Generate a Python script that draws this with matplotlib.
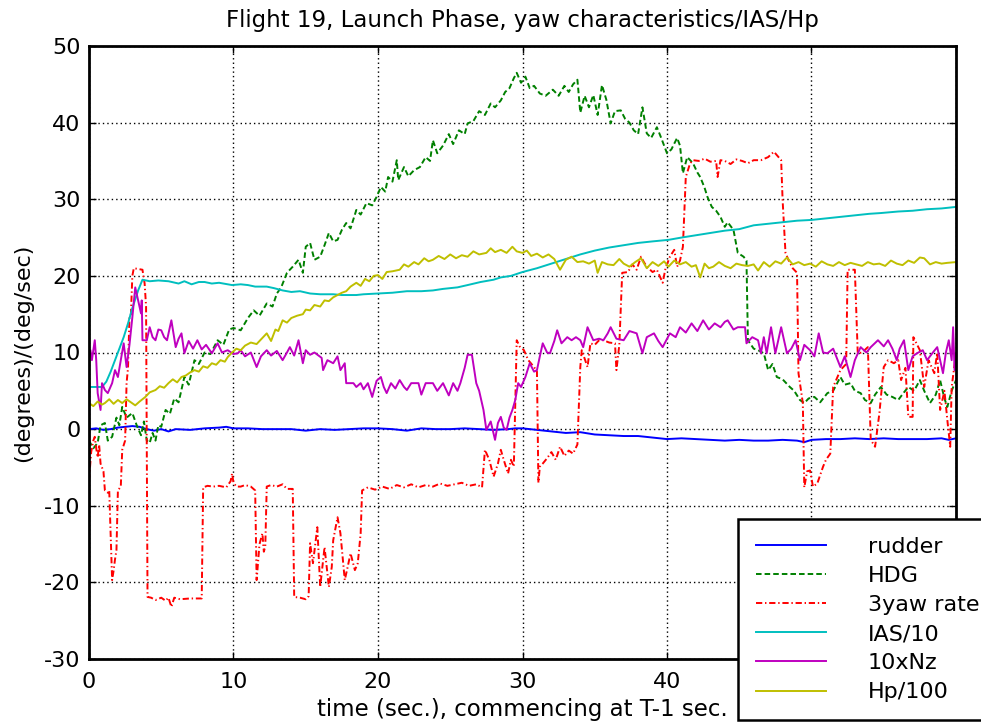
import matplotlib
matplotlib.use("Agg")
import matplotlib.pyplot as plt
from matplotlib.lines import Line2D

plt.rcParams['font.family'] = ['DejaVu Sans']
plt.rcParams['lines.scale_dashes'] = False

# ---------------- data ----------------
title = "Flight 19, Launch Phase, yaw characteristics/IAS/Hp"
xlabel = "time (sec.), commencing at T-1 sec."
ylabel = "(degrees)/(deg/sec)"
labels = ["rudder", "HDG", "3yaw rate", "IAS/10", "10xNz", "Hp/100"]
xticks = [0, 10, 20, 30, 40, 50, 60]
xticklabels = ["0", "10", "20", "30", "40", "", ""]  # 50 and 60 lie under the legend
yticks = [-30, -20, -10, 0, 10, 20, 30, 40, 50]

rudder_t = [0, 0.5, 1.0, 1.5, 2.0, 2.5, 3.0, 3.5, 4.0, 4.5,
            5.0, 5.5, 6.0, 7.0, 8.0, 9.0, 9.5, 10.0, 11.0, 12.0,
            13.0, 14.0, 15.0, 16.0, 17.0, 18.0, 19.0, 20.0, 21.0, 22.0,
            23.0, 24.0, 25.0, 26.0, 27.0, 28.0, 29.0, 29.5, 30.0, 31.0,
            32.0, 33.0, 34.0, 35.0, 36.0, 37.0, 38.0, 39.0, 40.0, 41.0,
            42.0, 43.0, 44.0, 45.0, 46.0, 47.0, 48.0, 49.0, 49.5, 50.0,
            51.0, 52.0, 53.0, 54.0, 55.0, 56.0, 57.0, 58.0, 59.0, 59.5,
            60.0]
rudder_v = [0.0, 0.1, -0.1, 0.0, 0.2, 0.3, 0.4, 0.3, 0.0, -0.2,
            0.0, -0.3, 0.0, -0.1, 0.1, 0.2, 0.3, 0.1, 0.1, 0.0,
            0.0, 0.0, -0.2, 0.0, -0.1, 0.0, 0.1, 0.1, 0.0, -0.2,
            0.1, 0.0, 0.0, 0.1, 0.0, -0.1, 0.0, 0.1, 0.1, -0.1,
            -0.3, -0.5, -0.4, -0.7, -0.8, -0.9, -0.9, -1.1, -1.3, -1.2,
            -1.3, -1.4, -1.5, -1.4, -1.5, -1.5, -1.4, -1.5, -1.7, -1.4,
            -1.3, -1.3, -1.2, -1.3, -1.2, -1.3, -1.3, -1.3, -1.2, -1.4,
            -1.2]

hdg_t = [0.0, 0.3, 0.6, 0.8, 1.1, 1.3, 1.6, 1.9, 2.1, 2.3,
         2.6, 3.0, 3.3, 3.6, 3.8, 4.0, 4.2, 4.4, 4.6, 4.8,
         5.0, 5.3, 5.6, 5.9, 6.2, 6.6, 6.9, 7.3, 7.6, 8.0,
         8.4, 8.9, 9.3, 9.7, 10.0, 10.5, 11.0, 11.4, 11.8, 12.3,
         12.7, 13.0, 13.3, 13.7, 14.1, 14.5, 14.8, 15.0, 15.3, 15.6,
         16.0, 16.3, 16.6, 16.9, 17.2, 17.5, 17.8, 18.1, 18.5, 18.8,
         19.2, 19.6, 19.9, 20.2, 20.5, 20.7, 21.0, 21.3, 21.4, 21.8,
         22.1, 22.5, 22.9, 23.3, 23.6, 23.8, 24.1, 24.5, 24.9, 25.2,
         25.6, 26.0, 26.2, 26.6, 27.0, 27.4, 27.8, 28.1, 28.5, 28.8,
         29.1, 29.4, 29.6, 29.9, 30.2, 30.5, 30.8, 31.2, 31.6, 32.1,
         32.5, 32.9, 33.2, 33.5, 33.8, 34.0, 34.3, 34.6, 34.9, 35.2,
         35.5, 35.8, 36.1, 36.4, 36.8, 37.1, 37.4, 37.7, 38.0, 38.3,
         38.6, 38.9, 39.3, 39.6, 40.0, 40.3, 40.7, 40.9, 41.1, 41.4,
         41.8, 42.1, 42.3, 42.6, 42.8, 43.1, 43.4, 43.7, 44.0, 44.2,
         44.6, 44.9, 45.3, 45.5, 45.6, 46.0, 46.3, 46.7, 47.0, 47.3,
         47.6, 48.0, 48.5, 48.8, 49.2, 49.5, 49.8, 50.2, 50.6, 51.1,
         51.5, 52.0, 52.3, 52.7, 53.0, 53.4, 53.7, 54.1, 54.4, 54.8,
         55.2, 55.6, 56.0, 56.4, 56.7, 57.1, 57.5, 57.8, 58.2, 58.6,
         58.9, 59.2, 59.4, 59.7, 60.0]
hdg_v = [-1.5, -2.5, -1.8, 0.5, 0.8, -1.5, -1.0, 1.5, 0.5, 2.9,
         1.5, 2.1, 0.5, -0.8, 1.0, -1.5, -1.8, -0.5, -1.5, 0.5,
         0.3, 2.5, 2.0, 4.0, 3.5, 6.8, 5.8, 9.0, 8.5, 10.0,
         9.8, 11.6, 11.0, 13.0, 13.2, 12.9, 14.5, 15.5, 14.8, 16.4,
         16.0, 17.7, 18.5, 20.4, 21.2, 22.1, 20.4, 23.8, 24.3, 22.1,
         22.5, 24.0, 25.6, 24.5, 24.7, 26.0, 26.9, 26.2, 28.6, 28.0,
         29.5, 29.2, 30.3, 31.6, 31.0, 32.9, 32.3, 35.1, 32.5, 34.2,
         33.0, 33.8, 34.2, 35.5, 35.0, 37.7, 36.0, 37.0, 38.5, 37.2,
         39.0, 38.5, 39.9, 40.2, 41.5, 41.0, 42.5, 42.0, 42.9, 44.0,
         44.5, 45.8, 46.5, 45.2, 46.0, 44.5, 44.8, 43.8, 43.5, 44.3,
         43.5, 44.8, 44.0, 45.0, 45.6, 41.3, 43.5, 42.0, 43.6, 41.0,
         44.9, 43.0, 39.9, 41.5, 41.6, 40.5, 40.0, 39.0, 38.5, 42.0,
         38.6, 38.0, 39.4, 38.0, 36.0, 36.5, 38.0, 37.0, 33.4, 35.5,
         34.7, 33.5, 32.9, 31.5, 30.3, 29.0, 28.5, 27.7, 26.4, 27.0,
         26.0, 23.0, 22.5, 22.0, 11.6, 10.5, 10.3, 9.9, 7.7, 8.5,
         6.8, 6.5, 5.5, 5.0, 3.8, 3.4, 4.0, 4.2, 3.5, 4.7,
         5.0, 6.8, 5.8, 6.0, 5.0, 4.7, 3.8, 3.4, 4.5, 5.5,
         4.5, 4.2, 3.8, 4.8, 5.5, 5.0, 6.4, 5.0, 3.4, 4.5,
         6.4, 4.0, 2.9, 5.0, 6.4]

yaw_t = [0.0, 0.15, 0.3, 0.4, 0.5, 0.6, 0.7, 0.8, 1.0, 1.1,
         1.3, 1.4, 1.5, 1.6, 1.7, 1.8, 1.9, 2.0, 2.2, 2.3,
         2.5, 2.6, 2.7, 2.8, 2.9, 3.0, 3.1, 3.7, 3.85, 3.95,
         4.05, 4.3, 4.6, 5.0, 5.3, 5.5, 5.7, 5.9, 6.3, 7.0,
         7.8, 7.9, 8.2, 8.6, 9.0, 9.5, 9.8, 9.9, 10.0, 10.2,
         10.5, 10.8, 11.2, 11.5, 11.6, 11.8, 12.0, 12.1, 12.2, 12.3,
         12.6, 13.0, 13.4, 13.7, 14.1, 14.2, 14.6, 15.0, 15.2, 15.3,
         15.5, 15.8, 16.0, 16.3, 16.6, 16.8, 16.9, 17.2, 17.4, 17.7,
         17.9, 18.1, 18.4, 18.6, 18.8, 18.9, 19.3, 19.8, 20.3, 20.8,
         21.3, 21.8, 22.3, 22.8, 23.3, 23.8, 24.3, 24.8, 25.3, 25.8,
         26.3, 26.8, 27.2, 27.4, 27.7, 28.0, 28.3, 28.5, 28.7, 29.0,
         29.2, 29.4, 29.6, 29.8, 30.1, 30.4, 30.8, 31.0, 31.1, 31.2,
         31.4, 31.7, 32.0, 32.3, 32.6, 32.9, 33.2, 33.5, 33.8, 34.0,
         34.1, 34.5, 34.7, 35.0, 35.3, 35.6, 36.0, 36.4, 36.5, 36.7,
         36.9, 37.3, 37.6, 37.9, 38.2, 38.4, 38.6, 39.0, 39.3, 39.7,
         39.9, 40.2, 40.5, 40.7, 40.9, 41.1, 41.3, 41.6, 41.8, 42.2,
         42.6, 43.0, 43.4, 43.5, 43.7, 44.0, 44.4, 44.8, 45.2, 45.6,
         46.0, 46.5, 47.0, 47.4, 47.9, 48.0, 48.2, 48.4, 48.7, 49.0,
         49.1, 49.4, 49.5, 49.7, 49.9, 50.1, 50.4, 50.6, 50.8, 51.0,
         51.3, 51.5, 52.0, 52.4, 52.5, 53.0, 53.2, 53.5, 53.9, 54.1,
         54.4, 54.7, 55.0, 55.3, 55.7, 56.0, 56.2, 56.5, 56.7, 57.0,
         57.05, 57.5, 57.8, 58.1, 58.5, 58.7, 58.9, 59.2, 59.4, 59.6,
         59.7, 60.0]
yaw_v = [-6.7, -3.0, -1.5, -1.0, -2.5, -3.7, -2.0, -4.5, -5.5, -8.0,
         -8.3, -8.0, -14.0, -19.7, -18.5, -17.0, -15.8, -8.0, -7.5, -2.7,
         -1.5, 6.0, 8.0, 14.6, 15.0, 20.0, 21.0, 20.8, 19.0, 16.0,
         -21.9, -22.0, -22.3, -22.0, -22.4, -22.0, -23.2, -22.0, -22.2, -22.1,
         -22.1, -7.6, -7.4, -7.5, -7.4, -7.6, -6.8, -5.8, -7.0, -7.5,
         -7.5, -7.3, -7.5, -8.0, -19.7, -15.0, -13.6, -16.0, -15.3, -7.5,
         -7.3, -7.5, -7.2, -7.8, -7.8, -21.9, -22.0, -22.2, -21.8, -14.9,
         -17.5, -12.8, -20.6, -15.4, -20.6, -18.0, -14.5, -11.5, -13.6, -19.7,
         -18.0, -16.2, -18.4, -17.5, -13.6, -8.0, -7.6, -7.9, -7.5, -7.8,
         -7.3, -7.6, -7.2, -7.6, -7.3, -7.5, -7.1, -7.4, -7.2, -7.0,
         -7.4, -7.2, -7.6, -2.7, -4.0, -6.2, -4.5, -2.7, -4.0, -5.8,
         -4.0, -4.9, 11.6, 10.8, 10.3, 9.0, 8.1, 7.5, -7.0, -4.9,
         -4.5, -3.8, -3.0, -4.0, -2.3, -3.5, -2.8, -3.2, -2.0, 8.1,
         10.3, 8.1, 11.2, 11.0, 11.6, 11.6, 11.3, 11.2, 7.7, 11.0,
         20.4, 20.5, 21.5, 20.8, 22.5, 21.8, 21.2, 20.5, 20.8, 19.1,
         21.0, 22.5, 23.4, 21.2, 22.0, 23.8, 32.9, 34.7, 35.1, 35.0,
         35.3, 34.9, 35.0, 32.9, 35.1, 35.0, 34.6, 35.2, 35.0, 34.7,
         35.1, 35.1, 35.5, 36.2, 35.1, 29.9, 23.0, 22.1, 21.0, 20.4,
         7.3, 3.4, -7.6, -5.5, -5.4, -7.5, -7.1, -6.0, -4.9, -4.0,
         -3.2, 5.5, 7.7, 8.5, 20.8, 20.8, 9.9, 10.0, 10.7, -1.4,
         -2.3, 2.1, 8.1, 9.0, 8.6, 9.0, 6.4, 8.0, 1.6, 1.6,
         12.0, 10.3, 5.5, 9.0, 7.3, 10.0, 2.5, 5.0, 1.2, -2.3,
         5.5, 9.9]

ias_t = [0.0, 0.9, 1.2, 1.5, 1.8, 2.1, 2.4, 2.7, 3.0, 3.4,
         3.7, 4.2, 4.8, 5.5, 6.2, 6.6, 7.1, 7.6, 8.0, 8.5,
         9.0, 9.9, 10.5, 11.0, 11.5, 12.3, 12.8, 13.4, 14.0, 14.6,
         15.3, 16.0, 16.9, 17.5, 18.5, 19.0, 20.0, 21.0, 22.0, 23.0,
         23.8, 24.5, 25.5, 26.2, 27.1, 28.0, 28.5, 29.2, 30.0, 31.0,
         32.0, 33.0, 34.0, 35.0, 36.0, 37.0, 38.0, 39.0, 40.1, 41.0,
         42.0, 43.0, 44.0, 45.0, 45.6, 46.0, 47.0, 48.0, 49.0, 50.0,
         51.0, 52.0, 53.0, 54.0, 54.8, 56.0, 57.0, 58.0, 59.0, 60.0]
ias_v = [5.5, 5.5, 6.2, 7.5, 9.0, 10.5, 12.0, 13.8, 15.8, 18.1,
         19.5, 19.3, 19.4, 19.3, 19.0, 19.3, 18.9, 19.2, 19.2, 19.0,
         19.1, 18.8, 18.9, 18.8, 18.6, 18.6, 18.4, 18.1, 17.9, 18.0,
         17.7, 17.6, 17.6, 17.5, 17.5, 17.6, 17.7, 17.8, 18.0, 18.0,
         18.1, 18.3, 18.5, 18.8, 19.2, 19.5, 19.8, 20.0, 20.5, 21.0,
         21.6, 22.2, 22.8, 23.3, 23.7, 24.0, 24.3, 24.5, 24.7, 25.0,
         25.3, 25.6, 25.9, 26.1, 26.4, 26.6, 26.8, 27.0, 27.2, 27.3,
         27.5, 27.7, 27.9, 28.1, 28.2, 28.4, 28.5, 28.7, 28.8, 29.0]

nz_t = [0.0, 0.1, 0.2, 0.4, 0.5, 0.6, 0.8, 0.9, 1.1, 1.3,
        1.6, 1.8, 2.0, 2.2, 2.4, 2.6, 2.8, 3.0, 3.2, 3.4,
        3.6, 3.65, 3.7, 4.0, 4.2, 4.4, 4.6, 4.8, 5.0, 5.2,
        5.4, 5.7, 6.0, 6.2, 6.4, 6.6, 6.9, 7.2, 7.5, 7.8,
        8.1, 8.5, 8.9, 9.2, 9.6, 10.0, 10.3, 10.5, 10.8, 11.2,
        11.6, 11.9, 12.3, 12.6, 13.0, 13.4, 13.7, 13.9, 14.2, 14.5,
        14.8, 15.0, 15.3, 15.6, 16.1, 16.2, 16.5, 16.9, 17.2, 17.4,
        17.7, 17.8, 18.3, 18.5, 18.8, 19.0, 19.3, 19.6, 19.9, 20.2,
        20.4, 20.6, 20.9, 21.2, 21.5, 21.8, 22.0, 22.3, 22.8, 23.0,
        23.3, 23.8, 24.1, 24.5, 24.9, 25.2, 25.5, 25.7, 26.0, 26.2,
        26.5, 26.8, 27.0, 27.3, 27.5, 27.8, 28.1, 28.3, 28.5, 28.7,
        28.9, 29.1, 29.3, 29.5, 29.7, 29.9, 30.2, 30.5, 30.8, 31.0,
        31.2, 31.4, 31.7, 31.9, 32.2, 32.4, 32.7, 33.1, 33.4, 33.7,
        34.0, 34.2, 34.5, 34.9, 35.3, 35.6, 35.9, 36.1, 36.5, 37.0,
        37.4, 37.9, 38.3, 38.6, 39.1, 39.4, 39.7, 40.2, 40.6, 40.9,
        41.3, 41.7, 42.1, 42.5, 42.9, 43.3, 43.7, 44.0, 44.2, 44.6,
        44.9, 45.4, 45.5, 45.9, 46.3, 46.5, 46.7, 46.9, 47.2, 47.5,
        47.9, 48.3, 48.6, 48.9, 49.2, 49.5, 49.9, 50.2, 50.5, 50.8,
        51.1, 51.5, 52.0, 52.3, 52.7, 53.0, 53.4, 53.8, 54.1, 54.6,
        55.0, 55.3, 55.6, 55.9, 56.1, 56.4, 56.7, 57.0, 57.3, 57.7,
        58.0, 58.4, 58.7, 59.1, 59.3, 59.5, 59.7, 59.8, 59.9, 60.0]
nz_v = [10.3, 10.3, 9.0, 11.6, 9.0, 4.7, 2.5, 6.0, 5.1, 4.7,
        6.0, 7.7, 6.8, 9.0, 11.2, 8.1, 11.0, 14.6, 18.5, 16.8,
        15.1, 16.8, 11.6, 11.6, 13.3, 12.0, 11.6, 13.0, 12.9, 12.0,
        11.6, 14.2, 10.7, 11.8, 12.5, 9.9, 11.5, 10.5, 11.6, 10.4,
        11.0, 9.9, 11.2, 10.0, 10.3, 9.8, 9.9, 10.3, 9.5, 10.0,
        8.1, 9.5, 10.3, 9.6, 10.2, 9.0, 10.0, 10.7, 9.6, 11.6,
        8.6, 10.3, 9.7, 10.0, 9.3, 7.7, 9.0, 8.6, 9.5, 7.7,
        8.6, 6.0, 6.0, 5.5, 6.0, 5.2, 6.0, 4.2, 6.3, 6.8,
        5.5, 4.7, 6.0, 5.3, 6.4, 5.5, 5.1, 6.0, 6.0, 4.5,
        6.0, 6.0, 5.0, 6.0, 4.4, 6.0, 5.0, 6.0, 8.0, 9.7,
        9.7, 6.0, 5.0, 2.5, -0.1, 1.0, -1.4, 0.8, 1.6, 0.2,
        -0.1, 1.5, 2.5, 3.8, 6.0, 5.5, 6.8, 8.6, 7.5, 7.7,
        9.5, 11.2, 10.0, 9.9, 11.5, 12.9, 11.2, 12.0, 11.6, 12.0,
        11.6, 10.7, 13.3, 11.6, 11.8, 11.6, 12.5, 13.3, 11.8, 11.6,
        12.8, 12.5, 9.9, 12.0, 12.5, 11.5, 10.7, 12.5, 12.0, 13.3,
        12.6, 13.8, 12.8, 14.2, 13.0, 13.8, 13.3, 14.0, 14.2, 13.0,
        13.3, 13.3, 11.2, 12.0, 11.6, 9.9, 12.0, 9.9, 13.3, 9.9,
        13.3, 9.9, 10.5, 11.6, 9.0, 11.0, 10.3, 9.5, 12.5, 10.0,
        9.9, 10.5, 8.1, 9.5, 6.8, 9.0, 10.7, 10.0, 10.7, 11.6,
        10.8, 11.6, 10.5, 9.0, 10.5, 11.6, 7.7, 9.5, 9.9, 10.3,
        9.0, 10.0, 10.7, 7.3, 10.0, 11.6, 9.0, 13.3, 7.7, 9.9]

hp_t = [0.0, 0.3, 0.6, 0.9, 1.1, 1.4, 1.7, 2.0, 2.3, 2.6,
        2.9, 3.2, 3.5, 3.9, 4.2, 4.6, 4.9, 5.2, 5.5, 5.8,
        6.1, 6.4, 6.7, 7.0, 7.3, 7.6, 7.9, 8.2, 8.5, 8.8,
        9.1, 9.4, 9.6, 9.9, 10.2, 10.5, 10.8, 11.2, 11.6, 12.0,
        12.3, 12.6, 12.9, 13.1, 13.4, 13.7, 14.0, 14.4, 14.8, 15.0,
        15.3, 15.6, 16.0, 16.3, 16.6, 16.9, 17.2, 17.5, 17.8, 18.1,
        18.5, 18.8, 19.1, 19.4, 19.7, 20.0, 20.3, 20.6, 21.0, 21.5,
        21.8, 22.1, 22.5, 22.8, 23.2, 23.5, 23.8, 24.2, 24.6, 25.0,
        25.4, 25.8, 26.2, 26.6, 27.0, 27.5, 27.8, 28.1, 28.5, 28.9,
        29.3, 29.6, 30.0, 30.3, 30.6, 31.0, 31.4, 31.8, 32.2, 32.6,
        33.0, 33.4, 33.8, 34.2, 34.6, 35.0, 35.2, 35.5, 35.9, 36.3,
        36.7, 37.0, 37.4, 37.8, 38.2, 38.6, 39.0, 39.4, 39.8, 40.1,
        40.5, 40.9, 41.3, 41.7, 42.0, 42.3, 42.6, 42.9, 43.2, 43.6,
        44.0, 44.4, 44.8, 45.2, 45.6, 46.0, 46.3, 46.7, 47.1, 47.5,
        47.9, 48.3, 48.7, 49.1, 49.5, 49.9, 50.3, 50.7, 51.1, 51.5,
        51.9, 52.3, 52.7, 53.1, 53.5, 53.9, 54.3, 54.7, 55.1, 55.5,
        55.9, 56.3, 56.7, 57.1, 57.5, 57.8, 58.2, 58.6, 59.0, 59.4,
        60.0]
hp_v = [3.4, 3.0, 3.6, 3.2, 3.4, 3.9, 3.3, 3.8, 3.4, 3.9,
        3.5, 3.1, 3.6, 4.2, 4.8, 5.1, 5.6, 5.4, 6.0, 6.5,
        6.1, 6.8, 7.0, 7.4, 7.7, 7.5, 8.2, 8.0, 8.6, 8.4,
        9.0, 8.8, 9.4, 10.0, 10.5, 10.3, 10.9, 11.3, 11.1, 11.9,
        12.5, 11.5, 13.0, 12.8, 14.2, 13.9, 14.5, 14.8, 15.0, 15.6,
        15.5, 16.2, 16.0, 16.8, 16.7, 17.2, 17.5, 17.8, 18.0, 18.6,
        19.1, 18.7, 19.6, 19.3, 20.0, 20.1, 19.6, 20.5, 20.6, 20.8,
        21.5, 21.2, 21.8, 21.5, 22.3, 21.9, 22.1, 22.6, 22.2, 22.8,
        22.3, 22.7, 22.5, 23.2, 22.8, 23.0, 23.6, 23.1, 23.4, 23.0,
        23.8, 23.2, 23.0, 23.3, 22.6, 22.9, 22.4, 22.8, 22.2, 20.8,
        22.1, 22.5, 21.8, 21.9, 21.6, 22.0, 20.4, 21.8, 21.5, 21.4,
        22.2, 21.6, 21.2, 21.8, 22.3, 21.0, 21.8, 21.3, 21.9, 21.2,
        22.0, 21.5, 21.8, 21.2, 21.4, 19.8, 21.6, 21.0, 21.2, 21.8,
        21.3, 21.0, 21.6, 21.4, 21.3, 21.5, 20.7, 21.8, 21.2, 21.9,
        21.6, 22.4, 21.5, 21.8, 21.4, 21.6, 21.2, 21.9, 21.5, 21.3,
        21.8, 21.4, 21.7, 21.5, 21.3, 21.8, 21.5, 21.6, 21.3, 22.0,
        21.6, 21.4, 22.0, 21.7, 22.4, 22.3, 21.5, 21.8, 21.6, 21.7,
        21.8]

# ---------------- figure ----------------
W, H = 981, 725
fig = plt.figure(figsize=(W / 100, H / 100), dpi=100)
ax = fig.add_axes([89 / W, 1 - 659 / H, (956 - 89) / W, (659 - 46) / H])

lw = 1.4
styles = [
    dict(color='#0000FF', linestyle='-'),
    dict(color='#008000', linestyle=(0, (4.0, 2.2))),
    dict(color='#FF0000', linestyle=(0, (4.5, 2.0, 1.0, 2.0))),
    dict(color='#00BFBF', linestyle='-'),
    dict(color='#BF00BF', linestyle='-'),
    dict(color='#BFBF00', linestyle='-'),
]
series = [(rudder_t, rudder_v), (hdg_t, hdg_v), (yaw_t, yaw_v),
          (ias_t, ias_v), (nz_t, nz_v), (hp_t, hp_v)]
handles = []
for (t, v), st, lab in zip(series, styles, labels):
    ax.plot(t, v, lw=lw, label=lab, **st)
    handles.append(Line2D([], [], lw=lw, **st))

ax.set_xlim(0, 60)
ax.set_ylim(-30, 50)
ax.set_xticks(xticks)
ax.set_yticks(yticks)
ax.set_xticklabels(xticklabels)
ax.set_yticklabels([str(y) for y in yticks])
ax.grid(True, color='black', linestyle=(0, (1, 2.2)), linewidth=1.0)
ax.set_axisbelow(True)
for s in ax.spines.values():
    s.set_linewidth(2.0)
ax.tick_params(direction='in', length=5, width=1.0, top=True, right=True,
               labelsize=16, pad=6)
ax.tick_params(axis='x', pad=9)

ax.set_title(title, fontsize=16.5, pad=14)
ax.set_xlabel(xlabel, fontsize=16.5, labelpad=5)
ax.set_ylabel(ylabel, fontsize=16, labelpad=8)

leg = fig.legend(handles, labels, loc='upper left',
                 bbox_to_anchor=(738 / W, 1 - 519 / H),
                 bbox_transform=fig.transFigure,
                 frameon=True, fancybox=False, framealpha=1,
                 edgecolor='black', fontsize=16,
                 handlelength=3.15, handletextpad=1.9,
                 borderpad=0.8, labelspacing=0.41, borderaxespad=0)
leg.get_frame().set_linewidth(1.8)

fig.savefig('out.png', dpi=100)
